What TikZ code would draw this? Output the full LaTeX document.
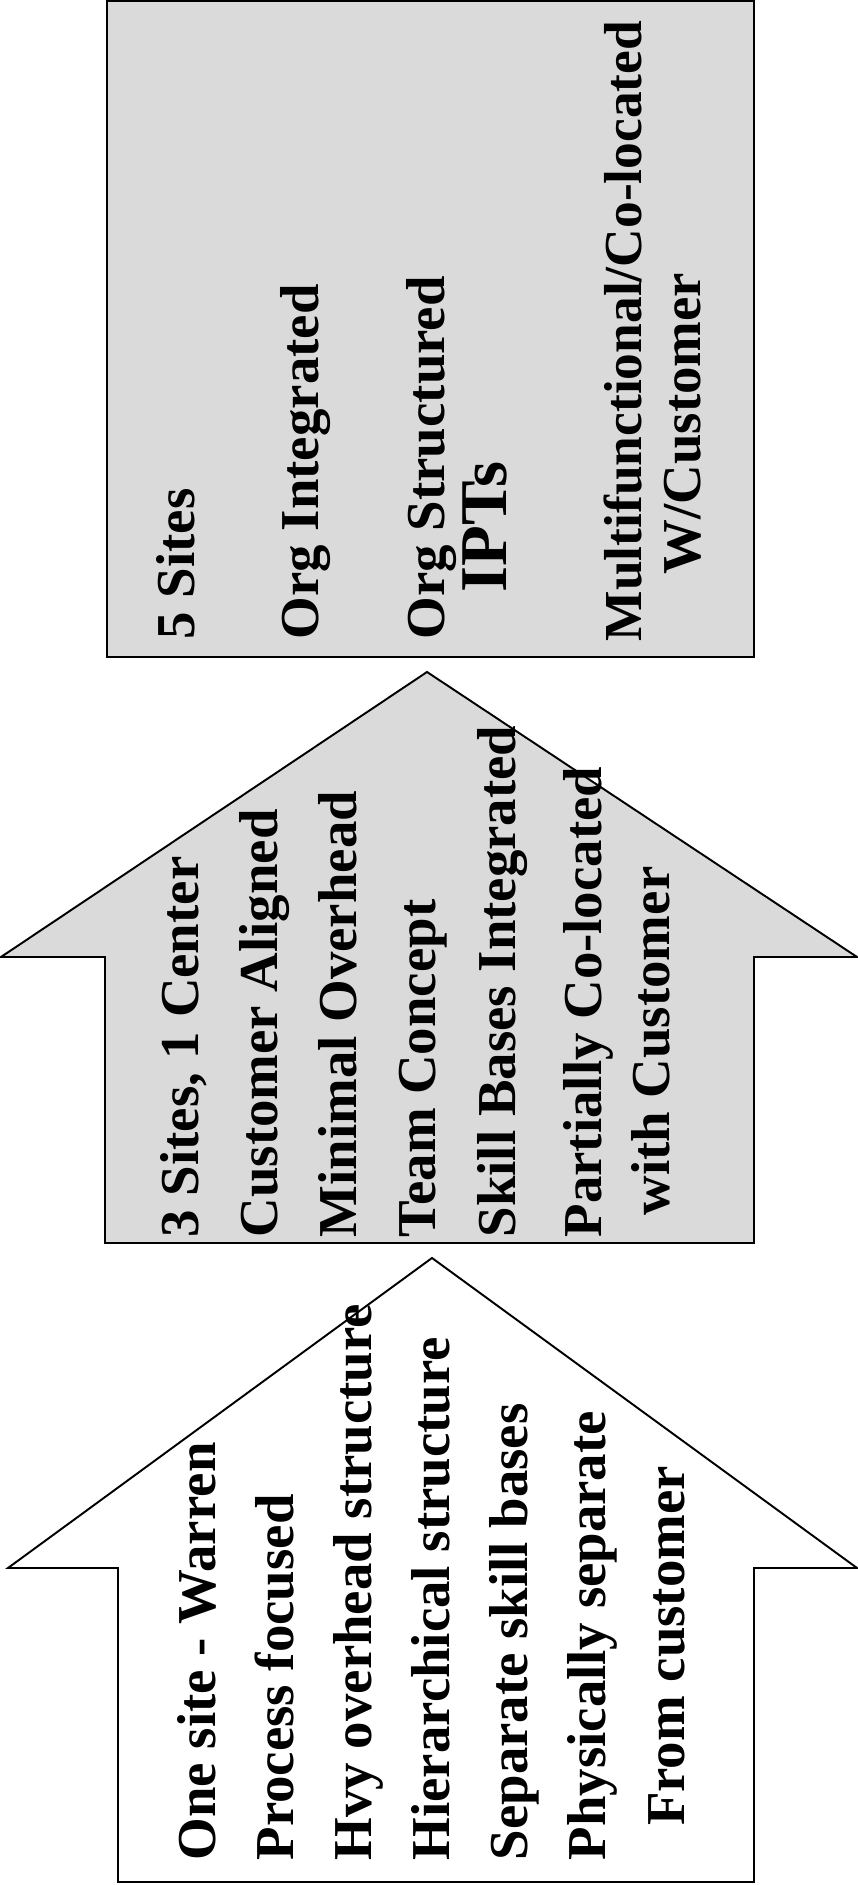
\documentclass[tikz,border=0pt]{standalone}
\usepackage{fontspec}
\setmainfont{Liberation Serif}
\usepackage{tikz}
\usetikzlibrary{positioning}
\definecolor{stipple}{RGB}{218, 218, 218}

\begin{document}
\begin{tikzpicture}[
    stagebox/.style={draw=black, line width=0.55pt, line join=miter},
    itemtxt/.style={rotate=90, anchor=base west, inner sep=0pt, font=\fontsize{15.6}{19}\selectfont\bfseries},
    contxt/.style={itemtxt, anchor=base}]
        \useasboundingbox (0, 0) rectangle (8.58, 18.85);

        % Target: 5 sites box
        \draw[stagebox, fill=stipple] (1.07, 12.28) rectangle (7.54, 18.84);
        \node[itemtxt] (s1) at (1.94, 12.45) {5 Sites};
        \node[itemtxt] (s2) at (3.18, 12.45) {Org Integrated};
        \node[itemtxt] (s3) at (4.44, 12.45) {Org Structured};
        \node[itemtxt, font=\fontsize{19}{21}\selectfont\bfseries] (s4) at (5.06, 12.92) {IPTs};
        \node[itemtxt, font=\fontsize{15.2}{19}\selectfont\bfseries] (s5) at (6.41, 12.43) {Multifunctional/Co-located};
        \node[itemtxt] (s6) at (7.00, 13.10) {W/Customer};

        % Middle stage arrow
        \draw[stagebox, fill=stipple] (1.05, 6.42) -- (1.05, 9.28) -- (0.01, 9.28) -- (4.27, 12.13)
            -- (8.57, 9.28) -- (7.54, 9.28) -- (7.54, 6.42) -- cycle;
        \node[itemtxt] (m1) at (1.98, 6.47) {3 Sites, 1 Center};
        \node[itemtxt] (m2) at (2.77, 6.47) {Customer Aligned};
        \node[itemtxt] (m3) at (3.56, 6.47) {Minimal Overhead};
        \node[itemtxt] (m4) at (4.35, 6.47) {Team Concept};
        \node[itemtxt] (m5) at (5.15, 6.47) {Skill Bases Integrated};
        \node[itemtxt] (m6) at (6.01, 6.47) {Partially Co-located};
        \node[contxt] (m7) at (6.69, 8.44) {with Customer};

        % Starting stage arrow
        \draw[stagebox, fill=white] (1.18, 0.03) -- (1.18, 3.17) -- (0.08, 3.17) -- (4.32, 6.27)
            -- (8.57, 3.17) -- (7.54, 3.17) -- (7.54, 0.03) -- cycle;
        \node[itemtxt] (w1) at (2.15, 0.24) {One site - Warren};
        \node[itemtxt] (w2) at (2.93, 0.24) {Process focused};
        \node[itemtxt] (w3) at (3.71, 0.24) {Hvy overhead structure};
        \node[itemtxt] (w4) at (4.49, 0.24) {Hierarchical structure};
        \node[itemtxt] (w5) at (5.27, 0.24) {Separate skill bases};
        \node[itemtxt] (w6) at (6.05, 0.24) {Physically separate};
        \node[contxt] (w7) at (6.84, 2.39) {From customer};
    \end{tikzpicture}
\end{document}
